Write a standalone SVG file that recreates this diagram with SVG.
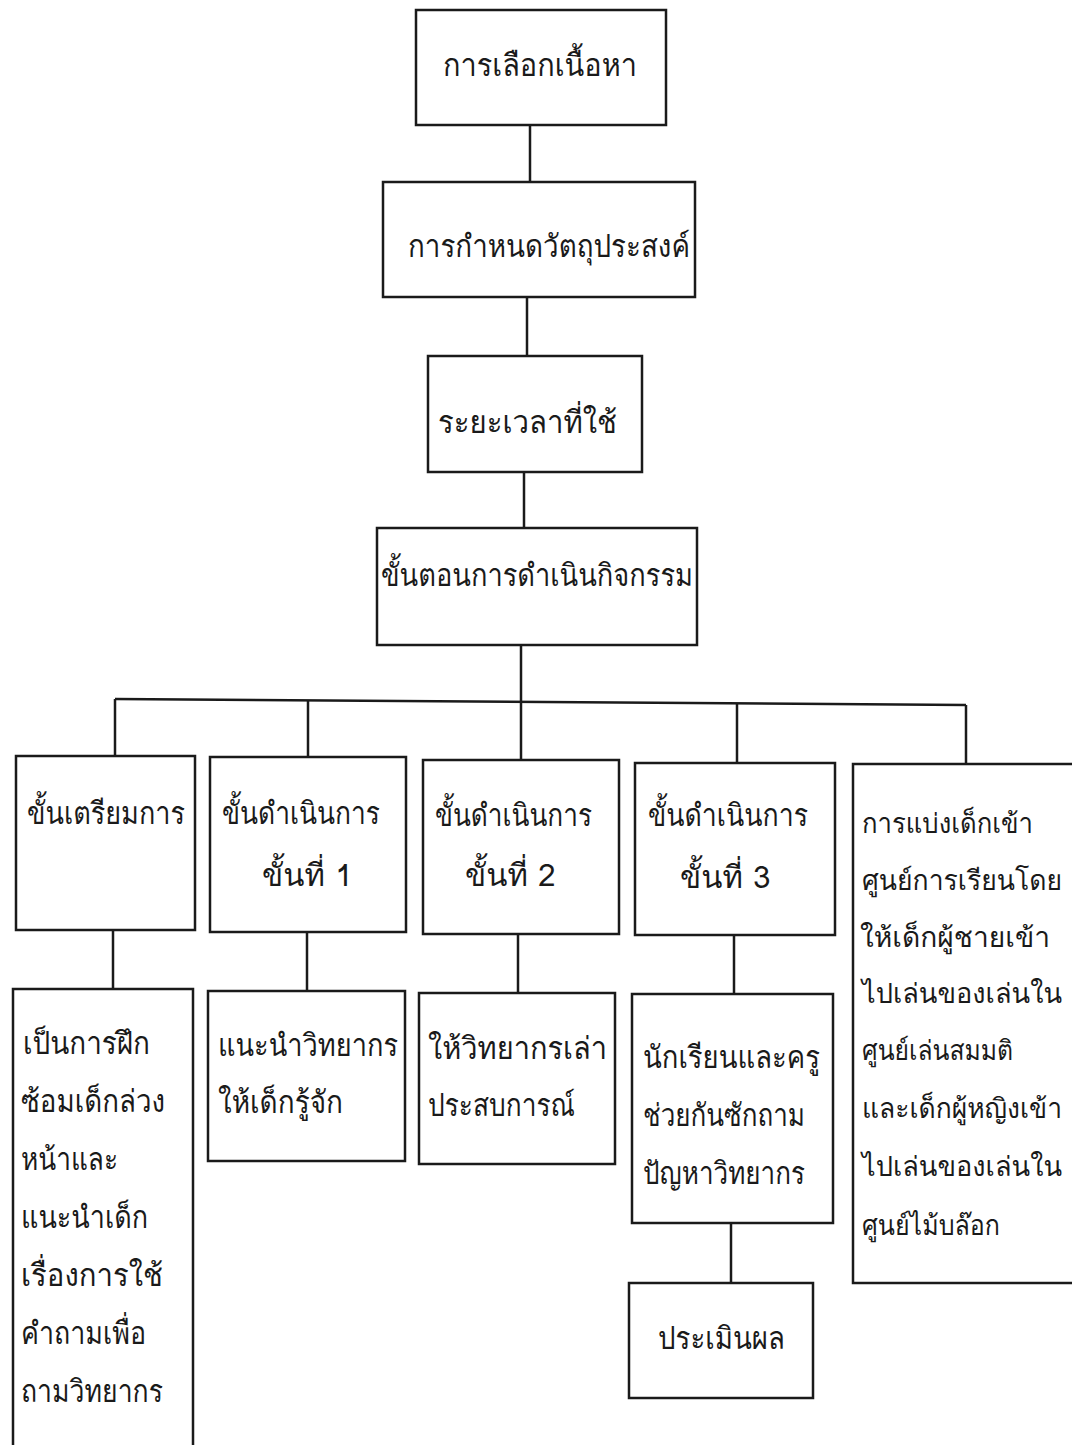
<svg xmlns="http://www.w3.org/2000/svg" width="1072" height="1445" viewBox="0 0 1072 1445">
<style>
.box{fill:#fff;stroke:#1a1a1a;stroke-width:2.5}
.ln{stroke:#1a1a1a;stroke-width:2.5;fill:none}
text{font-family:"Tlwg Typo","Tlwg Typist","Norasi","Garuda","Loma","Noto Sans Thai","Noto Serif Thai","Noto Sans",sans-serif;font-size:31px;fill:#1a1a1a}
#e1 text{font-size:27.5px}
</style>
<rect width="1072" height="1445" fill="#fff"/>
<g id="connectors">
<line class="ln" x1="530" y1="125" x2="530" y2="183"/>
<line class="ln" x1="527" y1="297" x2="527" y2="356"/>
<line class="ln" x1="524" y1="472" x2="524" y2="529"/>
<line class="ln" x1="521" y1="645" x2="521" y2="702"/>
<line class="ln" x1="115" y1="699" x2="966" y2="705"/>
<line class="ln" x1="115" y1="699" x2="115" y2="756"/>
<line class="ln" x1="308" y1="700" x2="308" y2="757"/>
<line class="ln" x1="521" y1="702" x2="521" y2="760"/>
<line class="ln" x1="737" y1="704" x2="737" y2="763"/>
<line class="ln" x1="966" y1="705" x2="966" y2="764"/>
<line class="ln" x1="113" y1="930" x2="113" y2="989"/>
<line class="ln" x1="307" y1="932" x2="307" y2="991"/>
<line class="ln" x1="518" y1="934" x2="518" y2="993"/>
<line class="ln" x1="734" y1="935" x2="734" y2="994"/>
<line class="ln" x1="731" y1="1223" x2="731" y2="1283"/>
</g>
<g id="n1"><rect class="box" x="416" y="10" width="250" height="115"/><text x="443" y="76" textLength="194" lengthAdjust="spacingAndGlyphs">การเลือกเนื้อหา</text></g>
<g id="n2"><rect class="box" x="383" y="182" width="312" height="115"/><text x="408" y="257" textLength="282" lengthAdjust="spacingAndGlyphs">การกำหนดวัตถุประสงค์</text></g>
<g id="n3"><rect class="box" x="428" y="356" width="214" height="116"/><text x="438" y="433" textLength="179" lengthAdjust="spacingAndGlyphs">ระยะเวลาที่ใช้</text></g>
<g id="n4"><rect class="box" x="377" y="528" width="320" height="117"/><text x="381" y="586" textLength="312" lengthAdjust="spacingAndGlyphs">ขั้นตอนการดำเนินกิจกรรม</text></g>
<g id="a1"><rect class="box" x="16" y="756" width="179" height="174"/><text x="27" y="824" textLength="158" lengthAdjust="spacingAndGlyphs">ขั้นเตรียมการ</text></g>
<g id="b1"><rect class="box" x="210" y="757" width="196" height="175"/><text x="222" y="824" textLength="158" lengthAdjust="spacingAndGlyphs">ขั้นดำเนินการ</text><text x="262" y="886">ขั้นที่  1</text></g>
<g id="c1"><rect class="box" x="423" y="760" width="196" height="174"/><text x="435" y="826" textLength="157" lengthAdjust="spacingAndGlyphs">ขั้นดำเนินการ</text><text x="465" y="886">ขั้นที่  2</text></g>
<g id="d1"><rect class="box" x="635" y="763" width="200" height="172"/><text x="648" y="826" textLength="160" lengthAdjust="spacingAndGlyphs">ขั้นดำเนินการ</text><text x="680" y="888">ขั้นที่  3</text></g>
<g id="e1"><rect class="box" x="853" y="764" width="230" height="519"/>
<text x="862" y="833" textLength="171" lengthAdjust="spacingAndGlyphs">การแบ่งเด็กเข้า</text>
<text x="862" y="890" textLength="200" lengthAdjust="spacingAndGlyphs">ศูนย์การเรียนโดย</text>
<text x="860" y="947" textLength="190" lengthAdjust="spacingAndGlyphs">ให้เด็กผู้ชายเข้า</text>
<text x="862" y="1003" textLength="200" lengthAdjust="spacingAndGlyphs">ไปเล่นของเล่นใน</text>
<text x="862" y="1060" textLength="151" lengthAdjust="spacingAndGlyphs">ศูนย์เล่นสมมติ</text>
<text x="862" y="1118" textLength="200" lengthAdjust="spacingAndGlyphs">และเด็กผู้หญิงเข้า</text>
<text x="862" y="1176" textLength="200" lengthAdjust="spacingAndGlyphs">ไปเล่นของเล่นใน</text>
<text x="862" y="1235" textLength="138" lengthAdjust="spacingAndGlyphs">ศูนย์ไม้บล๊อก</text></g>
<g id="a2"><rect class="box" x="13" y="989" width="180" height="480"/>
<text x="23" y="1054" textLength="127" lengthAdjust="spacingAndGlyphs">เป็นการฝึก</text>
<text x="21" y="1112" textLength="144" lengthAdjust="spacingAndGlyphs">ซ้อมเด็กล่วง</text>
<text x="21" y="1170" textLength="97" lengthAdjust="spacingAndGlyphs">หน้าและ</text>
<text x="21" y="1228" textLength="127" lengthAdjust="spacingAndGlyphs">แนะนำเด็ก</text>
<text x="21" y="1286" textLength="142" lengthAdjust="spacingAndGlyphs">เรื่องการใช้</text>
<text x="21" y="1344" textLength="125" lengthAdjust="spacingAndGlyphs">คำถามเพื่อ</text>
<text x="21" y="1402" textLength="142" lengthAdjust="spacingAndGlyphs">ถามวิทยากร</text></g>
<g id="b2"><rect class="box" x="208" y="991" width="197" height="170"/><text x="218" y="1056" textLength="180" lengthAdjust="spacingAndGlyphs">แนะนำวิทยากร</text><text x="218" y="1113" textLength="125" lengthAdjust="spacingAndGlyphs">ให้เด็กรู้จัก</text></g>
<g id="c2"><rect class="box" x="419" y="993" width="196" height="171"/><text x="428" y="1059" textLength="179" lengthAdjust="spacingAndGlyphs">ให้วิทยากรเล่า</text><text x="428" y="1116" textLength="147" lengthAdjust="spacingAndGlyphs">ประสบการณ์</text></g>
<g id="d2"><rect class="box" x="632" y="994" width="201" height="229"/><text x="643" y="1068" textLength="177" lengthAdjust="spacingAndGlyphs">นักเรียนและครู</text><text x="643" y="1126" textLength="162" lengthAdjust="spacingAndGlyphs">ช่วยกันซักถาม</text><text x="643" y="1184" textLength="162" lengthAdjust="spacingAndGlyphs">ปัญหาวิทยากร</text></g>
<g id="d3"><rect class="box" x="629" y="1283" width="184" height="115"/><text x="658" y="1349" textLength="127" lengthAdjust="spacingAndGlyphs">ประเมินผล</text></g>
</svg>
